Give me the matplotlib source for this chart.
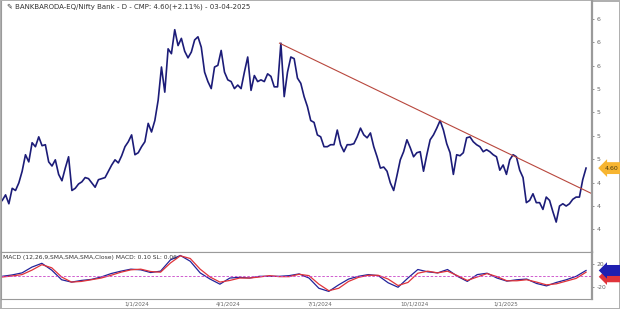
import numpy as np
import pandas as pd
import matplotlib
matplotlib.use('Agg')
import matplotlib.pyplot as plt
import matplotlib.transforms as mtransforms
from matplotlib.ticker import NullLocator

# ratio BANKBARODA / Nifty Bank (x100), sampled evenly from start to end date
start_date = '2023-09-02'
end_date = '2025-04-03'
price = [
    4.30, 4.35, 4.27, 4.41, 4.39, 4.46, 4.57, 4.73, 4.66, 4.85,
    4.81, 4.91, 4.82, 4.83, 4.66, 4.62, 4.68, 4.54, 4.48, 4.60,
    4.71, 4.39, 4.41, 4.45, 4.47, 4.51, 4.50, 4.46, 4.42, 4.49,
    4.50, 4.51, 4.57, 4.63, 4.68, 4.65, 4.72, 4.81, 4.86, 4.93,
    4.73, 4.75, 4.81, 4.86, 5.05, 4.96, 5.08, 5.30, 5.68, 5.39,
    5.90, 5.84, 6.14, 5.94, 6.03, 5.87, 5.79, 5.86, 6.01, 6.05,
    5.92,
    5.62, 5.51, 5.43, 5.68, 5.70, 5.88, 5.62, 5.53, 5.51, 5.43,
    5.47, 5.43, 5.62, 5.80, 5.41, 5.58, 5.51, 5.53, 5.51, 5.60,
    5.57, 5.45, 5.45, 5.97, 5.34, 5.62, 5.80, 5.78, 5.55, 5.49,
    5.34, 5.23, 5.08, 5.06, 4.93, 4.91, 4.81, 4.81, 4.83, 4.83,
    4.98, 4.83, 4.76, 4.83, 4.83, 4.84, 4.91, 5.00, 4.93, 4.90,
    4.95, 4.81, 4.71, 4.60, 4.61, 4.57, 4.46, 4.39,
    4.53, 4.68, 4.76, 4.88, 4.80, 4.71, 4.75, 4.76, 4.57, 4.73,
    4.88, 4.93, 5.00, 5.08, 4.98, 4.84, 4.75, 4.54, 4.73, 4.72,
    4.75, 4.90, 4.91, 4.86, 4.83, 4.81, 4.76, 4.78, 4.76, 4.73,
    4.71, 4.58, 4.63, 4.54, 4.68, 4.73, 4.71, 4.58, 4.51, 4.28,
    4.30, 4.36, 4.28, 4.28, 4.22, 4.33, 4.30, 4.20, 4.11, 4.25,
    4.27, 4.25, 4.27, 4.31, 4.33, 4.33, 4.49, 4.60,
]

# falling trendline
trend_dates = ['2024-06-03', '2025-04-09']
trend_vals = [5.97, 4.36]

# MACD (12,26,9 SMA) and signal line, sampled evenly
macd = [
    -0.012, 0.012, 0.048, 0.149, 0.215, 0.096, -0.072, -0.113, -0.084, -0.066,
    -0.024, 0.036, 0.078, 0.113, 0.101, 0.054, 0.078, 0.275, 0.352, 0.251,
    0.048, -0.060, -0.149, -0.042, -0.030, -0.042, -0.012, -0.012, -0.012, 0.000,
    0.030, -0.042, -0.221, -0.275, -0.161, -0.060, -0.012, 0.018, 0.000, -0.125,
    -0.203, -0.042, 0.107, 0.066, 0.048, 0.107, -0.012, -0.101, 0.018, 0.042,
    -0.042, -0.096, -0.072, -0.060, -0.137, -0.179, -0.119, -0.072, -0.012, 0.090,
]
signal = [
    -0.024, -0.006, 0.018, 0.096, 0.191, 0.137, -0.024, -0.113, -0.101, -0.072,
    -0.042, 0.006, 0.060, 0.101, 0.113, 0.072, 0.060, 0.221, 0.346, 0.299,
    0.113, -0.024, -0.113, -0.084, -0.042, -0.042, -0.024, 0.000, -0.018, -0.018,
    0.024, 0.000, -0.149, -0.263, -0.221, -0.101, -0.030, 0.006, 0.006, -0.060,
    -0.173, -0.119, 0.042, 0.078, 0.048, 0.078, 0.000, -0.084, -0.024, 0.036,
    -0.018, -0.090, -0.090, -0.072, -0.113, -0.161, -0.143, -0.096, -0.048, 0.060,
]

price_ticks = [4.05, 4.25, 4.46, 4.69, 4.92, 5.17, 5.42, 5.69, 5.98, 6.28]
macd_ticks = [0.2, -0.2]
macd_tick_labels = ['20', '-20']
date_ticks = ['2024-01-01', '2024-04-01', '2024-07-01', '2024-10-01', '2025-01-01']
date_labels = ['1/1/2024', '4/1/2024', '7/1/2024', '10/1/2024', '1/1/2025']

dates = pd.date_range(start_date, end_date, periods=len(price))
mdates_ = pd.date_range(start_date, end_date, periods=len(macd))

grey = '#9a9a9a'
fig = plt.figure(figsize=(6.2, 3.09), dpi=100)
fig.patch.set_edgecolor('#b0b0b0')
fig.patch.set_linewidth(1.0)

ax = fig.add_axes([0.002, 0.184, 0.953, 0.813])
ax2 = fig.add_axes([0.002, 0.032, 0.953, 0.152], sharex=ax)

ax.plot(dates, price, color='#1c1c78', lw=1.2)
ax.plot(pd.to_datetime(trend_dates), trend_vals, color='#b8473d', lw=0.8)
ax.set_yscale('log')
ax.set_ylim(3.86, 6.52)
ax.yaxis.tick_right()
ax.yaxis.set_minor_locator(NullLocator())
ax.set_yticks(price_ticks)
ax.set_yticklabels([f'{v:.0f}' for v in price_ticks])
ax.tick_params(axis='y', length=1.5, width=0.5, colors='#666', labelsize=4.5, pad=1.5)
ax.tick_params(axis='x', bottom=False, labelbottom=False)
ax.set_xlim(pd.Timestamp('2023-09-01'), pd.Timestamp('2025-04-09'))

for a in (ax, ax2):
    for s in a.spines.values():
        s.set_color(grey)
        s.set_linewidth(0.8)
    a.spines['right'].set_linewidth(1.6)
    a.spines['top'].set_visible(False)
ax2.spines['top'].set_visible(True)

blend = mtransforms.blended_transform_factory(ax.transAxes, ax.transData)
ax.text(1.022, price[-1], f'{price[-1]:.2f}', transform=blend, fontsize=4.5,
        color='#4a3a10', va='center', ha='left',
        bbox=dict(boxstyle='larrow,pad=0.55', fc='#f7b531', ec='none'))

fig.text(0.012, 0.988, '\u270e BANKBARODA-EQ/Nifty Bank - D - CMP: 4.60(+2.11%) - 03-04-2025',
         fontsize=5, color='#333', va='top', ha='left')

ax2.plot(mdates_, macd, color='#23239a', lw=0.9)
ax2.plot(mdates_, signal, color='#e0343a', lw=0.9)
ax2.axhline(0, color='#c844c8', lw=0.6, ls=(0, (3, 2)))
ax2.set_ylim(-0.41, 0.41)
ax2.yaxis.tick_right()
ax2.set_yticks(macd_ticks)
ax2.set_yticklabels(macd_tick_labels)
ax2.tick_params(axis='y', length=1.5, width=0.5, colors='#666', labelsize=4.3, pad=1.5)
ax2.set_xticks(pd.to_datetime(date_ticks))
ax2.set_xticklabels(date_labels, ha='left')
ax2.tick_params(axis='x', length=0, labelsize=4, colors='#666', pad=1.5)
ax2.text(0.003, 0.93, 'MACD (12,26,9,SMA,SMA,SMA,Close) MACD: 0.10 SL: 0.06',
         transform=ax2.transAxes, fontsize=4.3, color='#333', va='top', ha='left')

blend2 = mtransforms.blended_transform_factory(ax2.transAxes, ax2.transData)
ax2.text(1.022, signal[-1] - 0.08, f'{signal[-1]:.2f}', transform=blend2, fontsize=4.3,
         color='#e0343a', va='center', ha='left',
         bbox=dict(boxstyle='larrow,pad=0.5', fc='#e0343a', ec='none'))
ax2.text(1.022, macd[-1], f'{macd[-1]:.2f}', transform=blend2, fontsize=4.3,
         color='#1f1fb0', va='center', ha='left',
         bbox=dict(boxstyle='larrow,pad=0.5', fc='#1f1fb0', ec='none'))

fig.savefig('out.png', dpi=100)
